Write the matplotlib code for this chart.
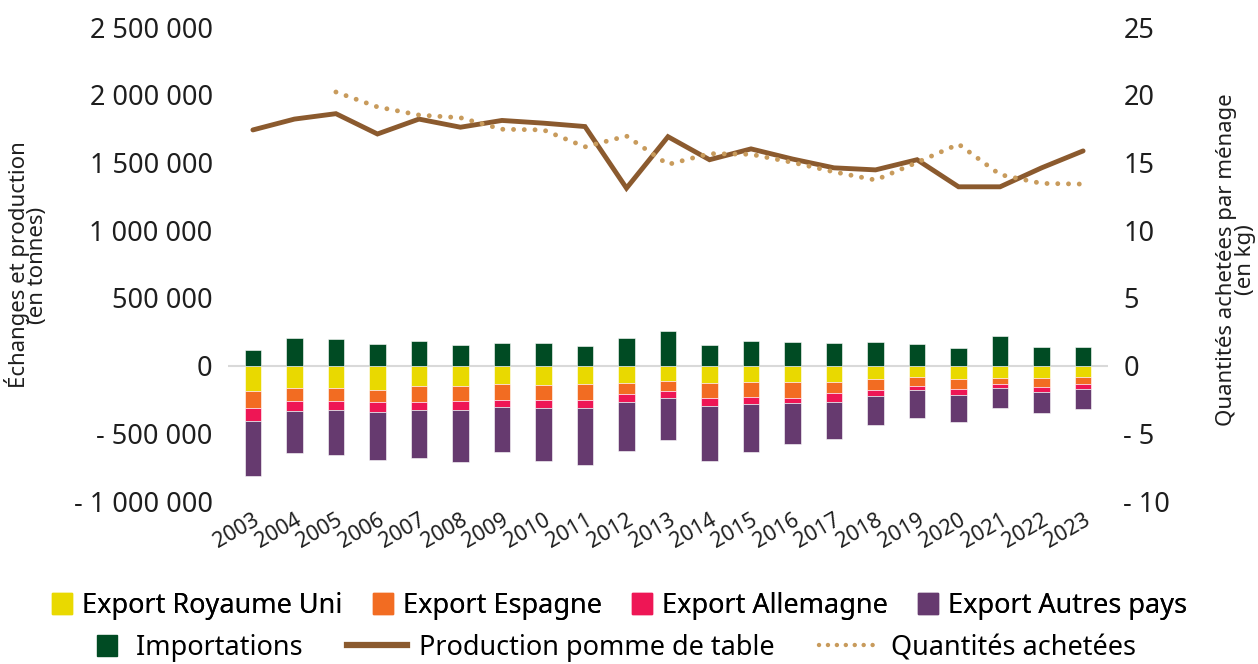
import matplotlib
matplotlib.use("Agg")
import matplotlib.pyplot as plt
from matplotlib.patches import Patch, Rectangle
from matplotlib.lines import Line2D
from matplotlib.legend_handler import HandlerPatch
import numpy as np

plt.rcParams['font.family'] = ['Noto Sans', 'DejaVu Sans']

years = [str(y) for y in range(2003, 2024)]
export_ru = [190000, 165000, 168000, 183000, 148000, 153000, 138000, 143000, 138000, 126000,
             114000, 131000, 123000, 121000, 119000, 99000, 84000, 99000, 91000, 89000, 84000]
export_es = [123000, 99000, 94000, 89000, 123000, 109000, 116000, 111000, 119000, 86000,
             72000, 111000, 106000, 116000, 86000, 81000, 67000, 74000, 44000, 69000, 52000]
export_de = [96000, 69000, 69000, 69000, 59000, 64000, 49000, 57000, 54000, 57000,
             52000, 59000, 52000, 40000, 62000, 42000, 27000, 42000, 30000, 35000, 35000]
export_autres = [405000, 309000, 333000, 356000, 353000, 385000, 333000, 390000, 425000, 360000,
                 311000, 402000, 356000, 304000, 274000, 215000, 210000, 200000, 148000, 156000, 151000]
importations = [118000, 207000, 193000, 156000, 185000, 151000, 163000, 165000, 141000, 205000,
                254000, 153000, 180000, 173000, 165000, 173000, 156000, 133000, 220000, 136000, 138000]
production = [17.4, 18.2, 18.6, 17.1, 18.2, 17.6, 18.1, 17.9, 17.65, 13.1,
              16.9, 15.2, 16.0, 15.25, 14.6, 14.45, 15.2, 13.2, 13.2, 14.6, 15.85]
quantites = [np.nan, np.nan, 20.2, 19.1, 18.5, 18.3, 17.45, 17.4, 16.15, 16.95,
             14.85, 15.65, 15.6, 15.0, 14.3, 13.7, 15.0, 16.35, 14.1, 13.45, 13.4]

left_ticks = [2500000, 2000000, 1500000, 1000000, 500000, 0, -500000, -1000000]
left_labels = ["2 500 000", "2 000 000", "1 500 000", "1 000 000", "500 000", "0", "- 500 000", "- 1 000 000"]
right_ticks = [25, 20, 15, 10, 5, 0, -5, -10]
right_labels = ["25", "20", "15", "10", "5", "0", "- 5", "- 10"]

c_ru = "#E9D900"
c_es = "#F26C22"
c_de = "#EE1655"
c_autres = "#663A6F"
c_imp = "#004B23"
c_prod = "#8B5A2E"
c_qty = "#C89B5C"
txt = "#1E1E1E"

fig = plt.figure(figsize=(12.58, 6.64), dpi=100)
ax = fig.add_axes([228/1258, (664-501)/664, 880/1258, 474/664])
x = np.arange(len(years))
w = 0.4
ekw = dict(edgecolor="white", linewidth=0.4)

ru = -np.array(export_ru)
es = -np.array(export_es)
de = -np.array(export_de)
au = -np.array(export_autres)
ax.bar(x, ru, w, color=c_ru, **ekw)
ax.bar(x, es, w, bottom=ru, color=c_es, **ekw)
ax.bar(x, de, w, bottom=ru + es, color=c_de, **ekw)
ax.bar(x, au, w, bottom=ru + es + de, color=c_autres, **ekw)
ax.bar(x, importations, w, color=c_imp, **ekw)
ax.axhline(0, color="#D9D9D9", linewidth=1.5, zorder=0.5)

ax.set_ylim(-1000000, 2500000)
ax.set_xlim(-0.6, len(years) - 0.4)
ax.set_yticks(left_ticks)
ax.set_yticklabels(left_labels, fontsize=19.5, color=txt)
ax.set_xticks(x)
ax.set_xticklabels(years, rotation=30, ha="right", rotation_mode="anchor", fontsize=15.5, color=txt)
ax.tick_params(axis="both", length=0)
ax.tick_params(axis="y", pad=11)
ax.tick_params(axis="x", pad=6)
for s in ax.spines.values():
    s.set_visible(False)
ax.set_ylabel("Échanges et production\n(en tonnes)", fontsize=16, color=txt, linespacing=0.85)
ax.yaxis.label.set_va("center")
ax.yaxis.set_label_coords((26 - 228) / 880, (501 - 265) / 474)

ax2 = ax.twinx()
ax2.plot(x, production, color=c_prod, linewidth=3.5, solid_capstyle="round", solid_joinstyle="miter")
ax2.plot(x, quantites, color=c_qty, linewidth=3.5, linestyle=(0, (0.01, 2.2)), dash_capstyle="round")
ax2.set_ylim(-10, 25)
ax2.set_yticks(right_ticks)
ax2.set_yticklabels(right_labels, fontsize=19.5, color=txt)
ax2.tick_params(axis="y", length=0, pad=11)
for s in ax2.spines.values():
    s.set_visible(False)
ax2.set_ylabel("Quantités achetées par ménage\n(en kg)", fontsize=16, color=txt, linespacing=0.85)
ax2.yaxis.label.set_va("center")
ax2.yaxis.set_label_coords((1236 - 228) / 880, (501 - 260) / 474)


def right_square(legend, orig_handle, xdescent, ydescent, width, height, fontsize):
    side = 20 * 72 / 100
    return Rectangle((width - xdescent - side, -ydescent), side, height)


h1 = [Patch(color=c_ru), Patch(color=c_es), Patch(color=c_de), Patch(color=c_autres)]
l1 = ["Export Royaume Uni", "Export Espagne", "Export Allemagne", "Export Autres pays"]
h2 = [Patch(color=c_imp),
      Line2D([], [], color=c_prod, linewidth=4.5),
      Line2D([], [], color=c_qty, linewidth=3.2, linestyle=(0, (0.01, 2.0)), dash_capstyle="round")]
l2 = [" Importations", "Production pomme de table", "Quantités achetées"]

fs_leg = 19.5
leg1 = fig.legend(h1, l1, loc="center left", bbox_to_anchor=(52/1258, 1 - 606/664), ncol=4,
                  frameon=False, fontsize=fs_leg, handlelength=0.75, handleheight=0.85,
                  handletextpad=0.37, columnspacing=1.1, borderpad=0, borderaxespad=0)
leg2 = fig.legend(h2, l2, loc="center left", bbox_to_anchor=(57/1258, 1 - 648/664), ncol=3,
                  frameon=False, fontsize=fs_leg, handlelength=2.2, handleheight=0.85,
                  handletextpad=0.45, columnspacing=1.65, borderpad=0, borderaxespad=0,
                  handler_map={Patch: HandlerPatch(patch_func=right_square)})
fig.add_artist(leg1)

fig.savefig("out.png", dpi=100)
